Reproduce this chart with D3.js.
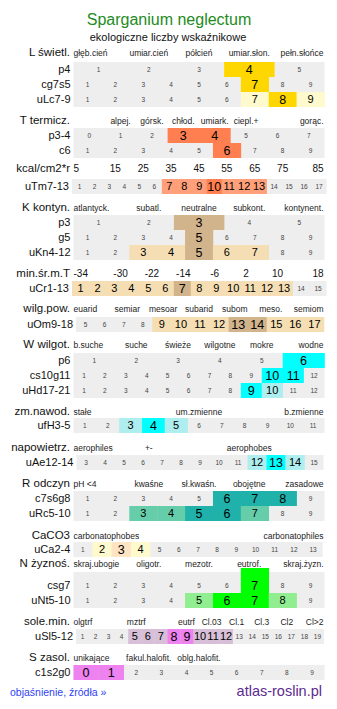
<!DOCTYPE html>
<html><head><meta charset="utf-8">
<script src="https://cdn.jsdelivr.net/npm/d3@7"></script>
<style>body{margin:0;background:#fff}svg{display:block;font-family:"Liberation Sans",Arial,sans-serif}</style>
</head><body><svg id="c" width="337" height="709"></svg>
<script>
// ---------- data ----------
const title = "Sparganium neglectum";
const subtitle = "ekologiczne liczby wskaźnikowe";
const groupTitles = ["L świetl.","T termicz.","kcal/cm2*r","K kontyn.","min.śr.m.T","wilg.pow.","W wilgot.","zm.nawod.","napowietrz.","R odczyn","CaCO3","N żyznoś.","sole.min.","S zasol."];
const groupLabels = [
  ["głęb.cień","umiar.cień","półcień","umiar.słon.","pełn.słońce"],
  ["","alpej.","górsk.","chłod.","umiark.","ciepl.+","","gorąc."],
  ["5","15","25","35","45","55","65","75","85"],
  ["atlantyck.","subatl.","neutralne","subkont.","kontynent."],
  ["-34","-30","-22","-14","-6","2","10","18"],
  ["euarid","semiar","mesoar","subarid","subom","meso.","semiom"],
  ["b.suche","suche","świeże","wilgotne","mokre","wodne"],
  ["stałe","um.zmienne","b.zmienne"],
  ["aerophiles","+-","","aerophobes",""],
  ["pH <4","kwaśne","sł.kwaśn.","obojętne","zasadowe"],
  ["carbonatophobes","carbonatophiles"],
  ["skraj.ubogie","oligotr.","mezotr.","eutrof.","skraj.żyzn."],
  ["olgtrf","","mztrf","","eutrf","Cl.03","Cl.1","Cl.3","Cl2","Cl>2"],
  ["unikające","fakul.halofit.","oblg.halofit.","",""]
];
const rowNames = ["p4","cg7s5","uLc7-9","p3-4","c6","uTm7-13","p3","g5","uKn4-12","uCr1-13","uOm9-18","p6","cs10g11","uHd17-21","ufH3-5","uAe12-14","c7s6g8","uRc5-10","uCa2-4","csg7","uNt5-10","uSl5-12","c1s2g0"];
const rowGroup = [0,0,0,1,1,2,3,3,3,4,5,6,6,6,7,8,9,9,10,11,11,12,13];
const rowFirst = [1,1,1,0,1,1,1,1,1,1,5,1,1,1,1,3,1,1,1,1,1,1,0];
const rowLast  = [5,9,9,7,9,17,5,9,9,15,17,6,12,12,11,15,9,9,13,9,9,19,9];
const rowMain = [[4],[7],[8],[3,4],[6],[10],[3],[5],[5],[7],[13,14],[6],[10,11],[9],[4],[13],[6,7,8],[5,6],[3],[7],[6,7],[8,9],[0,1]];
const rowSide = [[],[],[7,9],[],[],[7,8,9,11,12,13],[],[],[3,4,6,7],[1,2,3,4,5,6,8,9,10,11,12,13],[9,10,11,12,15,16,17],[],[],[10],[3,5],[12,14],[],[3,4,7],[2,4],[],[5,8],[5,6,7,10,11,12],[]];

// ---------- style / layout ----------
const mainColor = ["#FFD700","#FF7F50","#FF7F50","#D2B48C","#D2B48C","#D2B48C","#00FFFF","#00FFFF","#00FFFF","#20B2AA","#FFE4C4","#00FF00","#EE82EE","#EE82EE"];
const sideColor = ["#FFFACD","#FFA07A","#FFA07A","#F5DEB3","#F5DEB3","#F5DEB3","#AFEEEE","#AFEEEE","#AFEEEE","#66CDAA","#FFFACD","#90EE90","#D8BFD8","#D8BFD8"];
const titleY = [56,124,172,211,277,312,348,415,451,487,539,567,625,661];
const rowTop = [62,77,92,128,143,179,215,230,245,281,317,353,368,383,418,455,491,506,542,572,593,629,665];
const rowHeight = {"csg7":21};
const mainExtra = {"csg7":4};
const rowExtent = {"uTm7-13":[72,326.5],"uCr1-13":[72,326.5],"uOm9-18":[76,324],"uAe12-14":[76.5,323.5],"uSl5-12":[76,324],"uCa2-4":[73.3,322.7]};
const baseExtent = [73.5,324.5];
const bigLabelGroups = [2,4];

const svg = d3.select("#c");
const FONT = '"Liberation Sans",Arial,sans-serif';

svg.append("text").attr("x",169).attr("y",25).attr("text-anchor","middle")
  .attr("font-size",16).attr("fill","#228B22").text(title);
svg.append("text").attr("x",168).attr("y",41).attr("text-anchor","middle")
  .attr("font-size",11).attr("fill","#111").text(subtitle);

// group headers
groupTitles.forEach((t,g)=>{
  svg.append("text").attr("x",70).attr("y",titleY[g]).attr("text-anchor","end")
    .attr("font-size",11.5).attr("fill","#111").text(t);
  const labs = groupLabels[g];
  const xb = d3.scaleBand().domain(d3.range(labs.length)).range(baseExtent);
  const big = bigLabelGroups.includes(g);
  svg.append("g").selectAll("text").data(labs).join("text")
    .attr("x",(d,i)=> i===0 ? xb(i) : (i===labs.length-1 ? xb(i)+xb.bandwidth()-1 : xb(i)+xb.bandwidth()/2))
    .attr("y",titleY[g])
    .attr("text-anchor",(d,i)=> i===0 ? "start" : (i===labs.length-1 ? "end" : "middle"))
    .attr("font-size", big ? 10 : 8.5).attr("fill", big ? "#111" : "#222")
    .text(d=>d);
});

// rows
rowNames.forEach((name,r)=>{
  const g = rowGroup[r];
  const vals = d3.range(rowFirst[r], rowLast[r]+1);
  const ext = rowExtent[name] || baseExtent;
  const x = d3.scaleBand().domain(vals).range(ext);
  const y0 = rowTop[r], h = rowHeight[name] || 15;
  const extra = mainExtra[name] || 0;
  const G = svg.append("g");
  G.append("rect").attr("x",ext[0]).attr("y",y0).attr("width",ext[1]-ext[0]).attr("height",h).attr("fill","#EEEEEE");
  const kind = v => rowMain[r].includes(v) ? "main" : (rowSide[r].includes(v) ? "side" : "none");
  G.selectAll("rect.cell").data(vals.filter(v=>kind(v)!=="none")).join("rect")
    .attr("class","cell")
    .attr("x",v=>x(v)).attr("width",x.bandwidth()+0.3)
    .attr("y",v=>kind(v)==="main" ? y0-extra : y0)
    .attr("height",v=>kind(v)==="main" ? h+extra : h)
    .attr("fill",v=>kind(v)==="main" ? mainColor[g] : sideColor[g]);
  const cy = y0 + h - 7.5;
  G.selectAll("text.num").data(vals).join("text")
    .attr("class","num")
    .attr("x",v=>x(v)+x.bandwidth()/2).attr("y",cy).attr("dy","0.36em")
    .attr("text-anchor","middle")
    .attr("font-size",v=>kind(v)==="main" ? 12.5 : (kind(v)==="side" ? 11 : 6.5))
    .attr("fill",v=>kind(v)==="none" ? "#444" : "#000")
    .text(v=>v);
  svg.append("text").attr("x",ext[0]-3).attr("y",cy).attr("dy","0.36em")
    .attr("text-anchor","end").attr("font-size",11).attr("fill","#111").text(name);
});

svg.append("text").attr("x",10).attr("y",696).attr("font-size",10.5).attr("fill","#2f3ff2").text("objaśnienie, źródła »");
svg.append("text").attr("x",322).attr("y",696).attr("text-anchor","end").attr("font-size",14.5).attr("fill","#5b2a8e").text("atlas-roslin.pl");
</script></body></html>
